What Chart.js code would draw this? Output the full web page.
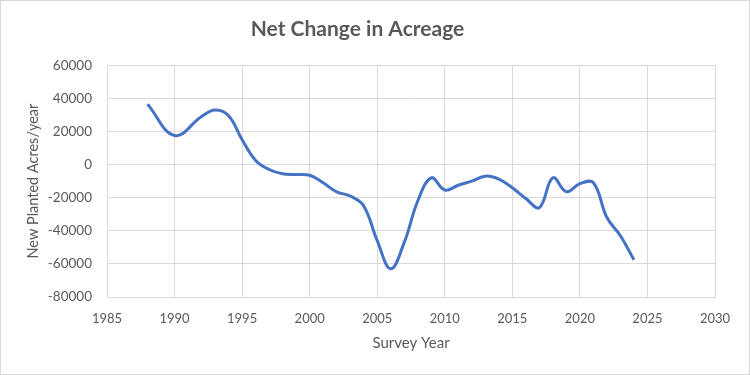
<!DOCTYPE html>
<html lang="en">
<head>
  <meta charset="UTF-8" />
  <title>Net Change in Acreage</title>
  <script src="https://cdn.jsdelivr.net/npm/chart.js"></script>
  <style>
    html, body { margin: 0; padding: 0; background: #fff; }
    .wrap { width: 750px; height: 375px; }
  </style>
</head>
<body>
  <div class="wrap"><canvas id="acreage" width="750" height="375"></canvas></div>

  <script>
    // survey years and net change values
    const years = [1988, 1990, 1992, 1993, 1994, 1995, 1996, 1997, 1998, 1999, 2000,
                   2001, 2002, 2003, 2004, 2005, 2006, 2007, 2008, 2009, 2010,
                   2011, 2012, 2013, 2014, 2015, 2016, 2017, 2018, 2019, 2020,
                   2021, 2022, 2023, 2024];
    const netChange = [36500, 17500, 29000, 33000, 29500, 15000, 2500, -3000, -5600, -6000, -6500,
                       -11000, -16500, -19000, -25000, -46000, -63000, -47000, -22000, -8000, -15400,
                       -12500, -10000, -7000, -8800, -14000, -20500, -26000, -8000, -16400, -11500,
                       -11000, -32000, -43000, -57500];
    const xTicks = [1985, 1990, 1995, 2000, 2005, 2010, 2015, 2020, 2025, 2030];
    const yTicks = [-80000, -60000, -40000, -20000, 0, 20000, 40000, 60000];

    const textColor = '#595959';
    const gridColor = '#d9d9d9';
    const fontFamily = 'Lato, "Open Sans", sans-serif';

    // white background + thin frame like the exported picture
    const frame = {
      id: 'frame',
      beforeDraw(chart) {
        const ctx = chart.ctx;
        ctx.save();
        ctx.fillStyle = '#fff';
        ctx.fillRect(0, 0, chart.width, chart.height);
        ctx.strokeStyle = gridColor;
        ctx.lineWidth = 1;
        ctx.strokeRect(0.5, 0.5, chart.width - 1, chart.height - 1);
        ctx.restore();
      }
    };

    new Chart(document.getElementById('acreage'), {
      type: 'line',
      data: {
        datasets: [{
          data: years.map((y, i) => ({ x: y, y: netChange[i] })),
          borderColor: '#4472C4',
          borderWidth: 3,
          pointRadius: 0,
          tension: 0.4,
          fill: false
        }]
      },
      options: {
        responsive: false,
        animation: false,
        layout: { padding: { left: 0, right: 35, top: 0, bottom: 0 } },
        plugins: {
          legend: { display: false },
          tooltip: { enabled: false },
          title: {
            display: true,
            text: 'Net Change in Acreage',
            color: textColor,
            font: { family: fontFamily, size: 21, weight: 'bold' },
            padding: { top: 17, bottom: 23 }
          }
        },
        scales: {
          x: {
            type: 'linear',
            min: xTicks[0],
            max: xTicks[xTicks.length - 1],
            afterBuildTicks: (scale) => { scale.ticks = xTicks.map(v => ({ value: v })); },
            afterFit: (scale) => { scale.height = 78; },
            grid: { color: gridColor, drawTicks: false },
            border: { color: gridColor },
            ticks: {
              color: textColor,
              font: { family: fontFamily, size: 13 },
              padding: 14,
              maxRotation: 0,
              callback: (v) => String(v)
            },
            title: {
              display: true,
              text: 'Survey Year',
              color: textColor,
              font: { family: fontFamily, size: 15 },
              padding: { top: 4, bottom: 23 }
            }
          },
          y: {
            min: yTicks[0],
            max: yTicks[yTicks.length - 1],
            afterBuildTicks: (scale) => { scale.ticks = yTicks.map(v => ({ value: v })); },
            afterFit: (scale) => { scale.width = 107; },
            grid: { color: gridColor, drawTicks: false },
            border: { color: gridColor },
            ticks: {
              color: textColor,
              font: { family: fontFamily, size: 13.5 },
              padding: 15,
              callback: (v) => String(v)
            },
            title: {
              display: true,
              text: 'New Planted Acres/year',
              color: textColor,
              font: { family: fontFamily, size: 14.5 },
              padding: { top: 25, bottom: 0 }
            }
          }
        }
      },
      plugins: [frame]
    });
  </script>
</body>
</html>
